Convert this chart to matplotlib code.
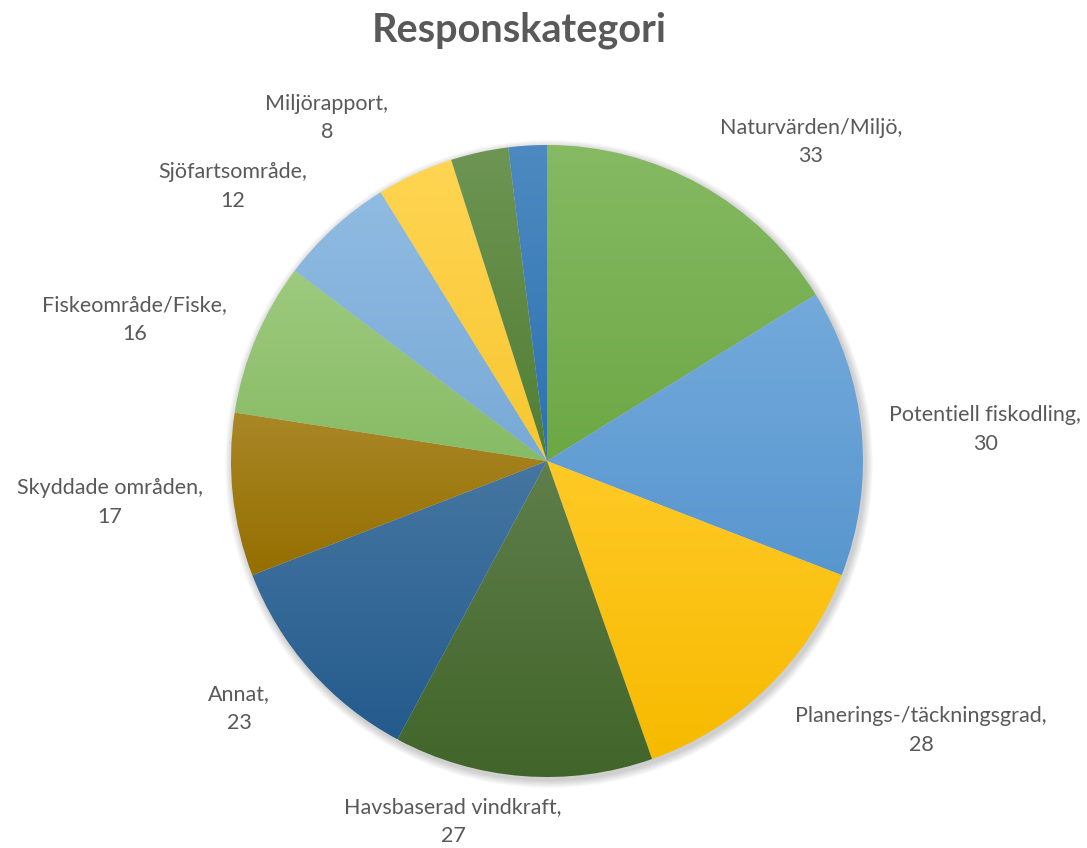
import matplotlib
matplotlib.use("Agg")
import numpy as np
import matplotlib.pyplot as plt
from matplotlib.colors import to_rgb
from matplotlib.patches import Circle

# -------- Data --------
categories = [
    "Naturvärden/Miljö",
    "Potentiell fiskodling",
    "Planerings-/täckningsgrad",
    "Havsbaserad vindkraft",
    "Annat",
    "Skyddade områden",
    "Fiskeområde/Fiske",
    "Sjöfartsområde",
    "Miljörapport",
    "",
    "",
]
values = [33, 30, 28, 27, 23, 17, 16, 12, 8, 6, 4]
colors = [
    "#70AD47", "#5B9BD5", "#FFC000",
    "#43682B", "#255E91", "#9A7200",
    "#8CC168", "#7CAFDD", "#FFCD33",
    "#548235", "#2E75B6",
]

# label placement: (angle clockwise from north in degrees, distance / radius)
label_pos = [
    (39.6, 1.31), (85.9, 1.39), (125.8, 1.46), (194.6, 1.18), (231.2, 1.25),
    (264.6, 1.39), (288.9, 1.38), (311.1, 1.32), (327.3, 1.29), None, None,
]

TEXT = "#595959"
W, H = 1087, 848
cx, cy, R = 547, H - 461, 316


def mix(c, other, t):
    c = np.array(to_rgb(c))
    return tuple(c * (1 - t) + np.array(other) * t)


# -------- Plot --------
fig = plt.figure(figsize=(W / 100, H / 100), dpi=100)
ax = fig.add_axes([0, 0, 1, 1])

# soft shadow
for i in range(8):
    ax.add_patch(Circle((cx + 2, cy - 3), R + 1 + i, color="black",
                        alpha=0.025, lw=0, zorder=0))

wedges, _ = ax.pie(values, colors=colors, startangle=90, counterclock=False,
                   center=(cx, cy), radius=R, frame=True,
                   wedgeprops=dict(linewidth=0))

# vertical gradient per slice (lighter top, base bottom)
for w, c in zip(wedges, colors):
    bb = w.get_path().get_extents(w.get_patch_transform())
    top = mix(c, (1, 1, 1), 0.15)
    bot = mix(c, (0, 0, 0), 0.03)
    t = np.linspace(0, 1, 64)[:, None, None]
    img = np.array(top)[None, None, :] * (1 - t) + np.array(bot)[None, None, :] * t
    img = np.repeat(img, 2, axis=1)
    im = ax.imshow(img, extent=(bb.x0, bb.x1, bb.y0, bb.y1), origin="upper",
                   aspect="auto", zorder=2, interpolation="bilinear")
    im.set_clip_path(w)
    w.set_facecolor("none")

ax.set_xlim(0, W)
ax.set_ylim(0, H)
ax.set_aspect("equal")
ax.axis("off")

# labels
for name, v, pos in zip(categories, values, label_pos):
    if pos is None:
        continue
    ang, d = pos
    x = cx + R * d * np.sin(np.radians(ang))
    y = cy + R * d * np.cos(np.radians(ang))
    ax.text(x, y, f"{name},\n{v}", ha="center", va="center", color=TEXT,
            fontsize=15.5, family="Lato", linespacing=1.55)

fig.text(519 / W, 1 - 30 / H, "Responskategori", ha="center", va="center",
         fontsize=28.5, fontweight="bold", color=TEXT, family="Lato")

fig.savefig("out.png", dpi=100)
